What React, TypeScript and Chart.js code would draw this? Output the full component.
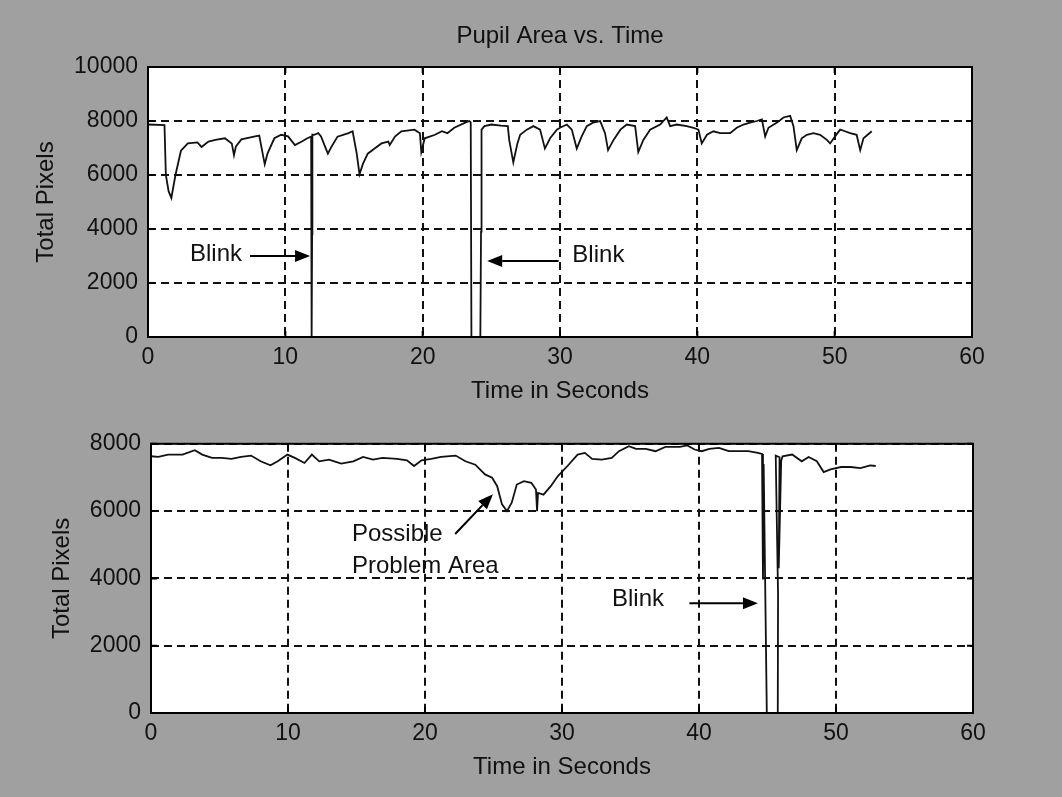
import React, { useEffect, useRef } from 'react';
import { Chart, registerables } from 'chart.js';

Chart.register(...registerables);

const FONT = "'Liberation Sans', Arial, Helvetica, sans-serif";

// ---- tick values ----
const xTickValues = [0, 10, 20, 30, 40, 50, 60];
const topYTickValues = [0, 2000, 4000, 6000, 8000, 10000];
const bottomYTickValues = [0, 2000, 4000, 6000, 8000];

// ---- texts ----
const chartTitle = 'Pupil Area vs. Time';
const xAxisTitle = 'Time in Seconds';
const yAxisTitle = 'Total Pixels';

// ---- top series (seconds, pixels) ----
const topTime = [
  0, 1.2, 1.3, 1.5, 1.7, 2.0, 2.4, 2.9, 3.6, 3.9,
  4.4, 4.9, 5.6, 6.1, 6.26, 6.4, 6.8, 7.8, 8.1, 8.4,
  8.5, 8.7, 9.2, 9.7, 10.2, 10.4, 10.7, 11.2, 11.6, 11.88,
  11.9, 11.93, 11.95, 11.97, 12.1, 12.4, 12.6, 12.9, 13.1, 13.35,
  13.8, 14.6, 14.9, 15.2, 15.4, 15.65, 16.0, 16.5, 17.0, 17.5,
  17.6, 18.0, 18.45, 19.4, 19.8, 19.9, 20.15, 20.9, 21.4, 21.8,
  22.3, 23.1, 23.4, 23.5, 23.55, 24.2, 24.25, 24.27, 24.29, 24.3,
  24.5, 25.0, 25.7, 26.2, 26.3, 26.6, 26.9, 27.1, 27.58, 28.06,
  28.55, 28.9, 29.28, 29.77, 30.0, 30.5, 30.86, 31.22, 31.58, 31.95,
  32.4, 32.92, 33.28, 33.5, 33.9, 34.4, 34.86, 35.47, 35.7, 36.07,
  36.56, 37.29, 37.77, 38.02, 38.5, 39.23, 39.72, 40.08, 40.32, 40.7,
  41.17, 41.66, 42.39, 42.87, 43.36, 43.84, 44.33, 44.7, 44.94, 45.18,
  45.8, 46.27, 46.76, 47.0, 47.24, 47.6, 47.97, 48.45, 48.94, 49.43,
  49.67, 50.03, 50.4, 50.76, 51.13, 51.6, 51.86, 52.1, 52.7,
];
const topPixels = [
  7870, 7850, 6000, 5400, 5150, 6000, 6900, 7170, 7210, 7040,
  7240, 7300, 7360, 7170, 6730, 7060, 7320, 7430, 7460, 6660,
  6400, 6790, 7360, 7490, 7430, 7300, 7110, 7240, 7360, 7420,
  3700, 0, 3800, 7500, 7490, 7550, 7430, 7040, 6790, 7040,
  7420, 7550, 7620, 6790, 6030, 6410, 6790, 6980, 7170, 7240,
  7110, 7430, 7620, 7680, 7550, 6850, 7360, 7490, 7620, 7550,
  7750, 7940, 8000, 7950, 0, 0, 3900, 7600, 4000, 7680,
  7810, 7870, 7830, 7810, 7300, 6470, 7170, 7490, 7680, 7810,
  7680, 6980, 7360, 7680, 7750, 7870, 7680, 6980, 7430, 7810,
  7940, 8000, 7550, 6920, 7300, 7680, 7870, 7810, 6850, 7300,
  7680, 7870, 8130, 7810, 7870, 7810, 7750, 7680, 7170, 7490,
  7620, 7550, 7550, 7750, 7870, 7940, 8000, 8060, 7430, 7750,
  7940, 8130, 8190, 7810, 6920, 7360, 7490, 7550, 7490, 7300,
  7170, 7430, 7680, 7620, 7550, 7490, 6920, 7360, 7620,
];

// ---- bottom series (seconds, pixels) ----
const bottomTime = [
  0, 0.53, 1.25, 2.3, 3.2, 3.74, 4.45, 5.16, 5.87, 6.58,
  7.3, 8.0, 8.72, 9.25, 9.96, 10.5, 11.2, 11.74, 12.28, 13.0,
  13.88, 14.77, 15.48, 16.2, 16.9, 17.97, 18.68, 19.2, 19.75, 20.46,
  21.17, 22.24, 22.95, 23.67, 24.38, 24.9, 25.27, 25.62, 25.98, 26.33,
  26.7, 27.22, 27.76, 28.1, 28.18, 28.25, 28.65, 29.18, 29.7, 30.4,
  31.14, 31.67, 32.2, 32.9, 33.63, 34.16, 34.88, 35.4, 36.12, 36.83,
  37.54, 38.6, 39.15, 39.68, 40.2, 40.75, 41.46, 42.17, 42.88, 43.6,
  44.3, 44.6, 44.67, 44.72, 44.95, 45.75, 45.77, 45.6, 45.88, 45.82,
  46.0, 46.1, 46.8, 47.5, 48.0, 48.6, 49.1, 49.6, 50.36, 51.07,
  51.78, 52.5, 52.9,
];
const bottomPixels = [
  7630, 7610, 7680, 7680, 7810, 7680, 7580, 7580, 7550, 7610,
  7650, 7480, 7360, 7480, 7680, 7580, 7430, 7680, 7480, 7530,
  7410, 7480, 7610, 7530, 7580, 7550, 7510, 7340, 7510, 7550,
  7610, 7650, 7480, 7380, 7090, 6990, 6740, 6200, 6000, 6250,
  6790, 6890, 6840, 6640, 6000, 6540, 6490, 6740, 7040, 7340,
  7680, 7730, 7550, 7530, 7580, 7780, 7930, 7850, 7850, 7780,
  7910, 7910, 7950, 7830, 7780, 7850, 7880, 7780, 7780, 7780,
  7730, 7700, 3970, 7400, 0, 0, 3530, 7650, 7600, 4300,
  7500, 7630, 7680, 7480, 7610, 7480, 7160, 7240, 7310, 7310,
  7280, 7360, 7340,
];

// ---- annotations (data coordinates) ----
type Note = { text: string; t: number; v: number };
type Arrow = { t0: number; v0: number; t1: number; v1: number };

const topNotes: Note[] = [
  { text: 'Blink', t: 3.06, v: 3070 },
  { text: 'Blink', t: 30.9, v: 3040 },
];
const topArrows: Arrow[] = [
  { t0: 7.43, v0: 3000, t1: 11.8, v1: 3000 },
  { t0: 29.9, v0: 2815, t1: 24.7, v1: 2815 },
];
const bottomNotes: Note[] = [
  { text: 'Possible', t: 14.67, v: 5320 },
  { text: 'Problem Area', t: 14.67, v: 4350 },
  { text: 'Blink', t: 33.65, v: 3380 },
];
const bottomArrows: Arrow[] = [
  { t0: 22.2, v0: 5320, t1: 24.96, v1: 6500 },
  { t0: 39.3, v0: 3260, t1: 44.3, v1: 3260 },
];

function makeDecor(notes: Note[], arrows: Arrow[], title?: string) {
  return {
    id: 'decor',
    beforeDraw(chart: any) {
      const { ctx, chartArea: a } = chart;
      ctx.save();
      ctx.fillStyle = '#ffffff';
      ctx.fillRect(a.left, a.top, a.right - a.left, a.bottom - a.top);
      ctx.restore();
    },
    afterDraw(chart: any) {
      const { ctx, chartArea: a, scales } = chart;
      const xs = scales.x;
      const ys = scales.y;
      ctx.save();
      ctx.strokeStyle = '#000';
      ctx.lineWidth = 2;
      const tl = 6;
      ctx.beginPath();
      xs.ticks.forEach((tk: any) => {
        const px = xs.getPixelForValue(tk.value);
        ctx.moveTo(px, a.bottom);
        ctx.lineTo(px, a.bottom - tl);
        ctx.moveTo(px, a.top);
        ctx.lineTo(px, a.top + tl);
      });
      ys.ticks.forEach((tk: any) => {
        const py = ys.getPixelForValue(tk.value);
        ctx.moveTo(a.left, py);
        ctx.lineTo(a.left + tl, py);
        ctx.moveTo(a.right, py);
        ctx.lineTo(a.right - tl, py);
      });
      ctx.stroke();
      ctx.strokeRect(a.left, a.top, a.right - a.left, a.bottom - a.top);

      ctx.fillStyle = '#000';
      arrows.forEach((ar) => {
        const x0 = xs.getPixelForValue(ar.t0);
        const y0 = ys.getPixelForValue(ar.v0);
        const x1 = xs.getPixelForValue(ar.t1);
        const y1 = ys.getPixelForValue(ar.v1);
        const ang = Math.atan2(y1 - y0, x1 - x0);
        const hl = 15;
        const hw = 6;
        const bx = x1 - hl * Math.cos(ang);
        const by = y1 - hl * Math.sin(ang);
        ctx.beginPath();
        ctx.moveTo(x0, y0);
        ctx.lineTo(bx, by);
        ctx.stroke();
        ctx.beginPath();
        ctx.moveTo(x1, y1);
        ctx.lineTo(bx + hw * Math.sin(ang), by - hw * Math.cos(ang));
        ctx.lineTo(bx - hw * Math.sin(ang), by + hw * Math.cos(ang));
        ctx.closePath();
        ctx.fill();
      });

      ctx.fillStyle = '#111';
      ctx.font = `24px ${FONT}`;
      ctx.textAlign = 'left';
      ctx.textBaseline = 'middle';
      notes.forEach((n) => {
        ctx.fillText(n.text, xs.getPixelForValue(n.t), ys.getPixelForValue(n.v));
      });
      if (title) {
        ctx.textAlign = 'center';
        ctx.fillText(title, (a.left + a.right) / 2, a.top - 31);
      }
      ctx.restore();
    },
  };
}

type PanelProps = {
  times: number[];
  values: number[];
  yTicks: number[];
  notes: Note[];
  arrows: Arrow[];
  title?: string;
  top: number;
  height: number;
  padTop: number;
  padRight: number;
  yAxisWidth: number;
  xAxisHeight: number;
  yTitlePad: number;
  xTitlePad: number;
};

function Panel(p: PanelProps) {
  const ref = useRef<HTMLCanvasElement | null>(null);
  useEffect(() => {
    if (!ref.current) return;
    const points = p.times.map((t, i) => ({ x: t, y: p.values[i] }));
    const tickFont = { family: FONT, size: 23 };
    const titleFont = { family: FONT, size: 24 };
    const plainLabel = (v: any) => String(v);
    const chart = new Chart(ref.current, {
      type: 'line',
      data: {
        datasets: [
          {
            data: points,
            borderColor: '#111',
            borderWidth: 1.8,
            pointRadius: 0,
            tension: 0,
            fill: false,
          },
        ],
      },
      options: {
        animation: false,
        responsive: false,
        events: [],
        layout: { padding: { top: p.padTop, right: p.padRight, left: 0, bottom: 0 } },
        plugins: {
          legend: { display: false },
          tooltip: { enabled: false },
        },
        scales: {
          x: {
            type: 'linear',
            min: xTickValues[0],
            max: xTickValues[xTickValues.length - 1],
            afterBuildTicks: (s: any) => {
              s.ticks = xTickValues.map((v) => ({ value: v }));
            },
            afterFit: (s: any) => {
              s.height = p.xAxisHeight;
            },
            ticks: { color: '#111', font: tickFont, padding: 7, maxRotation: 0, autoSkip: false, callback: plainLabel },
            grid: { color: '#111', lineWidth: 2, drawTicks: false },
            border: { display: false, dash: [8, 5] },
            title: {
              display: true,
              text: xAxisTitle,
              color: '#111',
              font: titleFont,
              padding: { top: 0, bottom: p.xTitlePad },
            },
          },
          y: {
            type: 'linear',
            min: p.yTicks[0],
            max: p.yTicks[p.yTicks.length - 1],
            afterBuildTicks: (s: any) => {
              s.ticks = p.yTicks.map((v) => ({ value: v }));
            },
            afterFit: (s: any) => {
              s.width = p.yAxisWidth;
            },
            ticks: { color: '#111', font: tickFont, padding: 10, autoSkip: false, callback: plainLabel },
            grid: { color: '#111', lineWidth: 2, drawTicks: false },
            border: { display: false, dash: [8, 5] },
            title: {
              display: true,
              text: yAxisTitle,
              color: '#111',
              font: titleFont,
              padding: { top: p.yTitlePad, bottom: 0 },
            },
          },
        },
      },
      plugins: [makeDecor(p.notes, p.arrows, p.title)],
    } as any);
    return () => chart.destroy();
  }, []);
  return (
    <canvas
      ref={ref}
      width={1062}
      height={p.height}
      style={{ position: 'absolute', left: 0, top: p.top, width: 1062, height: p.height }}
    />
  );
}

export default function App() {
  return (
    <div
      style={{
        position: 'absolute',
        left: 0,
        top: 0,
        width: 1062,
        height: 797,
        background: '#a0a0a0',
        overflow: 'hidden',
      }}
    >
      <Panel
        times={topTime}
        values={topPixels}
        yTicks={topYTickValues}
        notes={topNotes}
        arrows={topArrows}
        title={chartTitle}
        top={0}
        height={420}
        padTop={67}
        padRight={90}
        yAxisWidth={148}
        xAxisHeight={83}
        yTitlePad={31.6}
        xTitlePad={14.6}
      />
      <Panel
        times={bottomTime}
        values={bottomPixels}
        yTicks={bottomYTickValues}
        notes={bottomNotes}
        arrows={bottomArrows}
        top={420}
        height={377}
        padTop={21}
        padRight={89}
        yAxisWidth={151}
        xAxisHeight={84}
        yTitlePad={47.6}
        xTitlePad={15.6}
      />
    </div>
  );
}
